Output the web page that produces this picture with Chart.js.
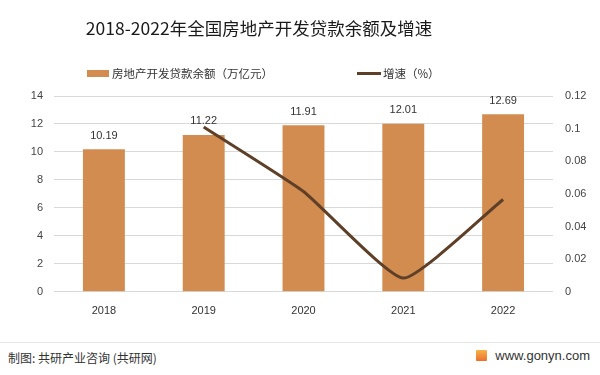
<!DOCTYPE html>
<html>
<head>
<meta charset="utf-8">
<script src="https://cdn.jsdelivr.net/npm/chart.js@4"></script>
<style>
  body { margin: 0; background: #fff; width: 600px; height: 375px; overflow: hidden; position: relative; font-family: "Noto Sans CJK SC", "Noto Sans", sans-serif; }
  #wrap { position: absolute; left: 0; top: 0; width: 600px; height: 340px; }
  #footer-line { position: absolute; left: 0; top: 342px; width: 600px; height: 1px; background: #e6e6e6; }
  #source { position: absolute; left: 8px; top: 349px; font-size: 12px; color: #333; }
  #site { position: absolute; right: 10px; top: 348px; font-size: 13px; color: #333; font-family: "Liberation Sans", sans-serif; }
  #logo { display: inline-block; width: 11px; height: 11px; margin-right: 8px; vertical-align: -1px; background: linear-gradient(#f5b24a, #ee6f2d); border-radius: 1px; }
</style>
</head>
<body>
<div id="wrap"><canvas id="chart" width="600" height="340"></canvas></div>
<div id="footer-line"></div>
<div id="source">制图: 共研产业咨询 (共研网)</div>
<div id="site"><span id="logo"></span>www.gonyn.com</div>
<script>
const years = ["2018", "2019", "2020", "2021", "2022"];
const loanBalance = [10.19, 11.22, 11.91, 12.01, 12.69]; // 万亿元
const growthRate = [null, 0.101, 0.0615, 0.0084, 0.0566];
const leftTicks = [0, 2, 4, 6, 8, 10, 12, 14];
const rightTicks = [0, 0.02, 0.04, 0.06, 0.08, 0.1, 0.12];

const barColor = "#D38C4F";
const lineColor = "#5E3F27";

// title + legend drawn by hand so they sit where the original has them
const headerPlugin = {
  id: "header",
  afterDraw(chart) {
    const ctx = chart.ctx;
    ctx.save();
    ctx.fillStyle = "#1a1a1a";
    ctx.font = '17.5px "Noto Sans CJK SC", sans-serif';
    ctx.textAlign = "center";
    ctx.textBaseline = "middle";
    ctx.fillText("2018-2022年全国房地产开发贷款余额及增速", 259, 28);

    ctx.font = '11.5px "Noto Sans CJK SC", sans-serif';
    ctx.textAlign = "left";
    ctx.fillStyle = barColor;
    ctx.fillRect(87, 70, 22, 7);
    ctx.fillStyle = "#333";
    ctx.fillText(chart.data.datasets[0].label, 112, 73.5);

    ctx.strokeStyle = lineColor;
    ctx.lineWidth = 3;
    ctx.beginPath();
    ctx.moveTo(357, 73.5);
    ctx.lineTo(381, 73.5);
    ctx.stroke();
    ctx.fillText(chart.data.datasets[1].label, 383, 73.5);
    ctx.restore();
  }
};

const barLabelPlugin = {
  id: "barLabels",
  afterDatasetsDraw(chart) {
    const ctx = chart.ctx;
    const meta = chart.getDatasetMeta(0);
    ctx.save();
    ctx.fillStyle = "#333";
    ctx.font = '11px "Liberation Sans", sans-serif';
    ctx.textAlign = "center";
    ctx.textBaseline = "bottom";
    meta.data.forEach((bar, i) => {
      ctx.fillText(loanBalance[i].toFixed(2), bar.x, bar.y - 8);
    });
    ctx.restore();
  }
};

new Chart(document.getElementById("chart"), {
  data: {
    labels: years,
    datasets: [
      {
        type: "bar",
        label: "房地产开发贷款余额（万亿元）",
        data: loanBalance,
        backgroundColor: barColor,
        barPercentage: 0.42,
        categoryPercentage: 1,
        yAxisID: "y",
        order: 2
      },
      {
        type: "line",
        label: "增速（%）",
        data: growthRate,
        borderColor: lineColor,
        borderWidth: 3,
        pointRadius: 0,
        tension: 0.15,
        fill: false,
        yAxisID: "y2",
        order: 1
      }
    ]
  },
  options: {
    responsive: false,
    animation: false,
    layout: { padding: { top: 96, left: 20, right: 0, bottom: 9 } },
    plugins: {
      legend: { display: false },
      title: { display: false },
      tooltip: { enabled: false }
    },
    scales: {
      x: {
        grid: { display: false, drawTicks: false },
        border: { display: false },
        ticks: { color: "#333", padding: 13, font: { family: "Liberation Sans", size: 11 } }
      },
      y: {
        position: "left",
        min: 0,
        max: 14,
        afterBuildTicks: (scale) => { scale.ticks = leftTicks.map(v => ({ value: v })); },
        afterFit: (scale) => { scale.width = 34; },
        grid: { color: "#d9d9d9", drawTicks: false },
        border: { display: false },
        ticks: { color: "#444", padding: 11, font: { family: "Liberation Sans", size: 11 } }
      },
      y2: {
        position: "right",
        min: 0,
        max: 0.12,
        afterBuildTicks: (scale) => { scale.ticks = rightTicks.map(v => ({ value: v })); },
        afterFit: (scale) => { scale.width = 47; },
        grid: { display: false, drawTicks: false },
        border: { display: false },
        ticks: {
          color: "#444",
          padding: 12,
          font: { family: "Liberation Sans", size: 11 },
          callback: (v) => String(+v.toFixed(2))
        }
      }
    }
  },
  plugins: [headerPlugin, barLabelPlugin]
});
</script>
</body>
</html>
